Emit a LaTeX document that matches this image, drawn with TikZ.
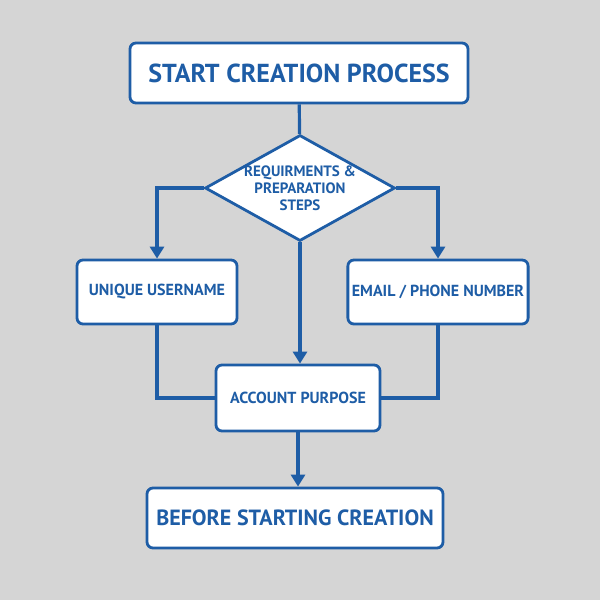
\documentclass[tikz,border=0pt]{standalone}
\usepackage{fontspec}
\setmainfont{PT Sans}
\usetikzlibrary{shapes.geometric, arrows.meta}
\definecolor{flowblue}{HTML}{1E5DA6}
\definecolor{bggray}{HTML}{D5D5D5}
\tikzset{
    stepbox/.style={draw=flowblue, line width=1.4pt, fill=white, rounded corners=3pt,
        text=flowblue, font=\bfseries, align=center, inner sep=2pt},
    choice/.style={draw=flowblue, line width=1.4pt, fill=white, diamond, aspect=1.8,
        text=flowblue, font=\bfseries\fontsize{7.5}{8.5}\selectfont, align=center, inner sep=-1pt},
    flow/.style={draw=flowblue, line width=1.6pt},
    flowarrow/.style={flow, -{Triangle[length=6pt,width=7pt]}}
}
\begin{document}
\begin{tikzpicture}[x=0.5pt, y=-0.5pt]
    \fill[bggray] (0,0) rectangle (600,600);
    \useasboundingbox (0,0) rectangle (600,600);

    % boxes
    \node[stepbox, minimum width=169pt, minimum height=30pt, font=\bfseries\fontsize{13}{15}\selectfont] (start) at (299,73) {START CREATION PROCESS};
    \node[choice, minimum width=95pt, minimum height=53pt] (req) at (300,188) {REQUIRMENTS \&\\PREPARATION\\STEPS};
    \node[stepbox, minimum width=80pt, minimum height=32pt, font=\bfseries\fontsize{8}{10}\selectfont] (user) at (157,292) {UNIQUE USERNAME};
    \node[stepbox, minimum width=82pt, minimum height=32pt, font=\bfseries\fontsize{8}{10}\selectfont] (mail) at (438,292) {EMAIL / PHONE NUMBER};
    \node[stepbox, minimum width=82pt, minimum height=33pt, font=\bfseries\fontsize{8}{10}\selectfont] (purpose) at (298,398) {ACCOUNT PURPOSE};
    \node[stepbox, minimum width=148pt, minimum height=30pt, font=\bfseries\fontsize{11}{13}\selectfont] (before) at (295,518) {BEFORE STARTING CREATION};

    % connectors
    \draw[flow] (start) -- (req);
    \draw[flowarrow] (req.west) -| (user.north);
    \draw[flowarrow] (req.east) -| (mail.north);
    \draw[flowarrow] (req.south) -- (purpose.north -| req.south);
    \draw[flow] (user.south) |- (purpose.west);
    \draw[flow] (mail.south) |- (purpose.east);
    \draw[flowarrow] (purpose.south) -- (before.north -| purpose.south);
\end{tikzpicture}
\end{document}
